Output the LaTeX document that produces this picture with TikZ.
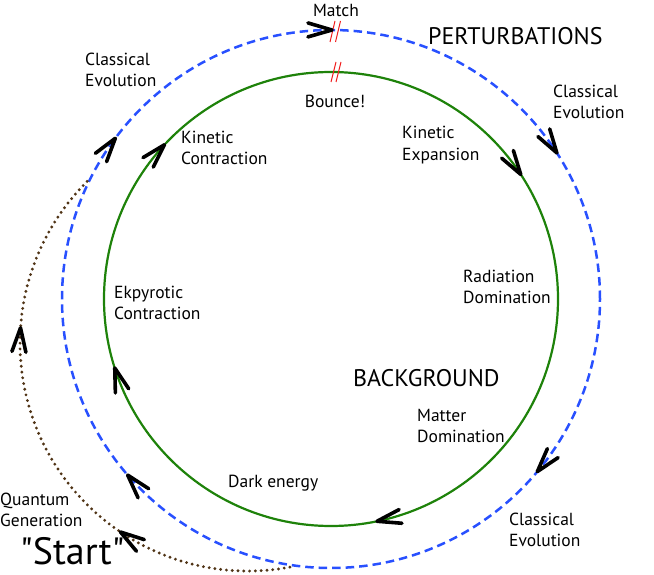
\documentclass[tikz,border=0pt]{standalone}
\usepackage{fontspec}
\setmainfont{PT Sans}
\newfontfamily\startfont{PT Sans}
\definecolor{gr}{RGB}{30,130,10}
\definecolor{bl}{RGB}{40,80,255}
\definecolor{br}{RGB}{80,52,22}
\definecolor{rd}{RGB}{240,30,30}
\newcommand{\cwbarb}[3]{\begin{scope}[shift={(#1)}, rotate=#3]\draw[barb] (#2+7,24) -- (#2,0) -- (#2-7,24);\end{scope}}
\begin{document}
\begin{tikzpicture}[x=1pt,y=1pt,
  lab/.style={font=\fontsize{17.5}{21.5}\selectfont, inner sep=0pt, align=left, anchor=west},
  big/.style={font=\fontsize{24}{28}\selectfont, inner sep=0pt, anchor=west},
  barb/.style={black, line width=3.6pt, line cap=round, line join=round},
  slash/.style={rd, line width=1pt}]
\useasboundingbox (0,0) rectangle (654,574);
\coordinate (c) at (331,275);
\coordinate (cb) at (248,231);
% circles
\draw[gr, line width=2.2] (c) circle[radius=227];
\draw[bl, line width=2.5, dash pattern=on 8.5pt off 5pt] (c) circle[radius=269];
\draw[br, line width=3.2, line cap=round, dash pattern=on 0pt off 5.8pt]
  (cb) ++(280.6:228) arc[start angle=280.6, end angle=133.4, radius=228];
% slashes
\draw[slash] (330,532) -- (335,553);
\draw[slash] (335.5,532) -- (340.5,553);
\draw[slash] (331,492) -- (336,512);
\draw[slash] (336,492) -- (341,512);
% arrowheads
\cwbarb{c}{227}{33.3}
\cwbarb{c}{227}{-78.3}
\cwbarb{c}{227}{197.7}
\cwbarb{c}{227}{137.2}
\cwbarb{c}{269}{89.8}
\cwbarb{c}{269}{32.9}
\cwbarb{c}{269}{-39.9}
\cwbarb{c}{269}{220.9}
\cwbarb{c}{269}{143.3}
\cwbarb{cb}{228}{236}
\cwbarb{cb}{228}{176.2}
% labels
\node[lab, anchor=center] (match) at (336,564) {Match};
\node[big] (pert) at (428,538) {PERTURBATIONS};
\node[lab] (ce1) at (85,504) {Classical\\Evolution};
\node[lab, anchor=center] (bounce) at (335,473) {Bounce!};
\node[lab] (ce2) at (553,472) {Classical\\Evolution};
\node[lab] (kc) at (181,426) {Kinetic\\Contraction};
\node[lab] (ke) at (402,429) {Kinetic\\Expansion};
\node[lab] (rd) at (463,287) {Radiation\\Domination};
\node[lab] (ek) at (114,271) {Ekpyrotic\\Contraction};
\node[big] (bg) at (353,196) {BACKGROUND};
\node[lab] (md) at (417,148) {Matter\\Domination};
\node[lab] (de) at (228,91) {Dark energy};
\node[lab] (ce3) at (509,44) {Classical\\Evolution};
\node[lab] (qg) at (0,64) {Quantum\\Generation};
\node[font=\startfont\fontsize{38}{44}\selectfont, inner sep=0pt, anchor=west] (start) at (20,23) {"Start"};
\end{tikzpicture}
\end{document}
